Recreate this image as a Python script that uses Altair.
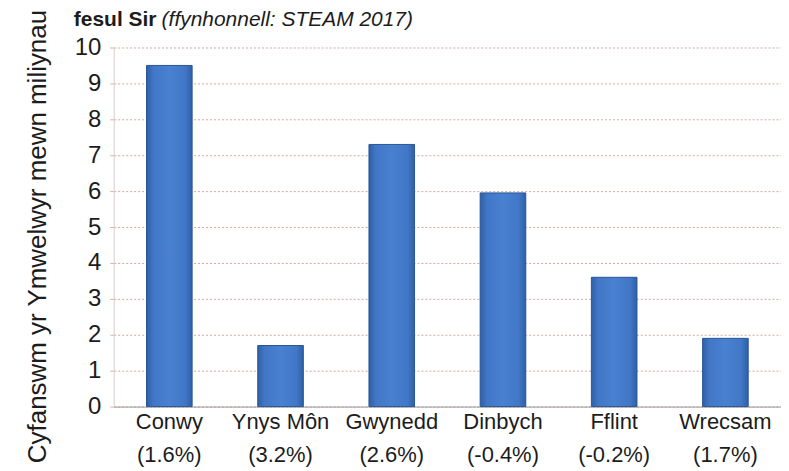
import altair as alt
import pandas as pd

counties = ["Conwy", "Ynys Môn", "Gwynedd", "Dinbych", "Fflint", "Wrecsam"]
changes = ["(1.6%)", "(3.2%)", "(2.6%)", "(-0.4%)", "(-0.2%)", "(1.7%)"]
visitors = [9.5, 1.7, 7.3, 5.95, 3.6, 1.9]
y_ticks = list(range(0, 11))
title_bold = "fesul Sir"
title_italic = "(ffynhonnell: STEAM 2017)"
y_title = "Cyfanswm yr Ymwelwyr mewn miliynau"

df = pd.DataFrame({
    "label": [f"{c}|{p}" for c, p in zip(counties, changes)],
    "visitors": visitors,
})

FONT = "Liberation Sans"
TXT = "#1c1c1c"

gradient = alt.Gradient(
    gradient="linear", x1=0, x2=1, y1=0, y2=0,
    stops=[
        alt.GradientStop(offset=0, color="#2f5fa8"),
        alt.GradientStop(offset=0.15, color="#4177c6"),
        alt.GradientStop(offset=0.5, color="#4a80d0"),
        alt.GradientStop(offset=0.85, color="#4177c6"),
        alt.GradientStop(offset=1, color="#2f5fa8"),
    ],
)

bars = alt.Chart(df).mark_bar(color=gradient, stroke="#2a5595", strokeWidth=1).encode(
    x=alt.X(
        "label:N", sort=None, title=None,
        scale=alt.Scale(paddingInner=0.59, paddingOuter=0.295),
        axis=alt.Axis(
            labelExpr="split(datum.label, '|')", labelAngle=0,
            labelFont=FONT, labelFontSize=22, labelColor=TXT,
            labelLineHeight=33, labelPadding=5, ticks=False,
            domainColor="#999999", labelBaseline="top", labelOverlap=False,
        ),
    ),
    y=alt.Y(
        "visitors:Q",
        scale=alt.Scale(domain=[0, 10], nice=False),
        axis=alt.Axis(
            values=y_ticks, title=y_title,
            titleFont=FONT, titleFontSize=26, titleFontWeight="normal",
            titleColor=TXT, titleX=-76, titleY=189, titleAngle=270,
            titleBaseline="middle", titleAlign="center",
            labelFont=FONT, labelFontSize=24, labelColor=TXT,
            labelPadding=9, tickSize=4, tickColor="#d4b0aa",
            gridColor="#d4a8a0", gridDash=[2, 2], domainColor="#d8cccc",
        ),
    ),
)

t1 = alt.Chart(pd.DataFrame({"t": [title_bold]})).mark_text(
    align="left", baseline="alphabetic", font=FONT, fontSize=21,
    fontWeight="bold", color=TXT,
).encode(text="t:N", x=alt.value(-40), y=alt.value(-22))

t2 = alt.Chart(pd.DataFrame({"t": [title_italic]})).mark_text(
    align="left", baseline="alphabetic", font=FONT, fontSize=21,
    fontStyle="italic", color=TXT,
).encode(text="t:N", x=alt.value(48), y=alt.value(-22))

chart = alt.layer(bars, t1, t2).properties(
    width=669, height=360,
    padding={"left": 106, "top": 39, "right": 0, "bottom": 64},
    autosize=alt.AutoSizeParams(type="none"),
    background="white",
).configure_view(stroke=None)

chart.save("out.html", embed_options={"renderer": "svg", "actions": False})
